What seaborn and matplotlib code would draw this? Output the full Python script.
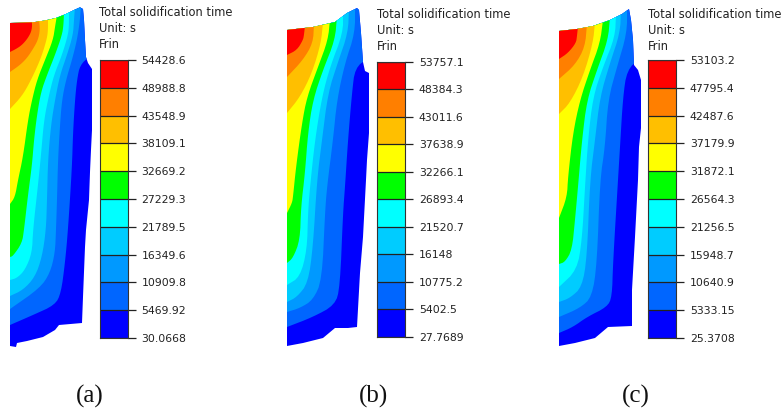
import numpy as np
import pandas as pd
import matplotlib
matplotlib.use('Agg')
import matplotlib.pyplot as plt
from matplotlib.colors import ListedColormap, BoundaryNorm
from matplotlib.patches import Polygon
import seaborn as sns

# Legend levels, top to bottom
levels_a = [54428.6, 48988.8, 43548.9, 38109.1, 32669.2, 27229.3, 21789.5, 16349.6, 10909.8, 5469.92, 30.0668]
levels_b = [53757.1, 48384.3, 43011.6, 37638.9, 32266.1, 26893.4, 21520.7, 16148, 10775.2, 5402.5, 27.7689]
levels_c = [53103.2, 47795.4, 42487.6, 37179.9, 31872.1, 26564.3, 21256.5, 15948.7, 10640.9, 5333.15, 25.3708]
labels_a = ['54428.6', '48988.8', '43548.9', '38109.1', '32669.2', '27229.3', '21789.5', '16349.6', '10909.8', '5469.92', '30.0668']
labels_b = ['53757.1', '48384.3', '43011.6', '37638.9', '32266.1', '26893.4', '21520.7', '16148', '10775.2', '5402.5', '27.7689']
labels_c = ['53103.2', '47795.4', '42487.6', '37179.9', '31872.1', '26564.3', '21256.5', '15948.7', '10640.9', '5333.15', '25.3708']
band_colors = ['#ff0000', '#ff7f00', '#ffbf00', '#ffff00', '#00ff00',
               '#00ffff', '#00ccff', '#0099ff', '#0066ff', '#0000ff']
title_lines = ['Total solidification time', 'Unit: s', 'Frin']

# Casting silhouettes and the contour lines (image pixels)
outline_a = [(10, 23), (32, 22.5), (45, 20.5), (56, 18), (66, 14), (74, 10), (80, 7.3), (83, 9), (84, 20), (85, 40),
             (86, 57), (88, 63), (92, 69), (92, 130), (91, 150), (90, 172), (89, 200), (86, 230), (85, 247), (83, 297),
             (82, 323), (59, 325), (55, 330), (43, 337), (27, 341), (17, 343), (16, 347), (10, 346)]
contours_a = [
    [(32, 20), (32, 30), (28, 38), (22, 45), (16, 49), (10, 52)],
    [(39, 20), (40, 30), (38, 40), (33, 49), (27, 58), (20, 65), (10, 72)],
    [(48, 18), (48, 30), (47, 38), (43, 52), (38, 65), (30, 82), (22, 96), (10, 109)],
    [(57, 15), (55, 27), (53, 40), (45, 60), (37, 80), (32, 100), (28, 120), (23, 157), (18, 180), (15, 197), (10, 204)],
    [(64, 12), (63.5, 25), (62, 35), (55, 55), (47, 75), (41, 92), (37, 115), (34, 140), (32, 165), (28, 195), (24, 230), (22, 243), (13, 256), (10, 257)],
    [(69, 9), (69, 25), (68, 35), (62, 55), (54, 75), (49, 95), (44, 120), (41, 155), (38, 185), (33, 230), (32, 253), (25, 270), (17, 278), (10, 280)],
    [(75, 6), (74, 20), (73, 35), (67, 55), (60, 75), (55, 100), (51, 125), (48, 160), (47, 200), (46, 230), (42, 257), (35, 277), (23, 290), (10, 296)],
    [(81, 4), (80, 20), (77, 40), (72, 60), (66, 80), (62, 100), (60, 125), (58, 160), (57, 200), (56, 230), (55, 253), (50, 273), (40, 288), (10, 309)],
    [(90, 56), (80, 65), (77, 80), (75, 100), (73, 133), (72, 167), (68, 230), (65, 263), (61, 293), (55, 305), (33, 315), (10, 325)],
]
outline_b = [(287, 30), (313, 27), (335, 22), (347, 13), (357, 8), (359, 10), (361, 33), (363, 62), (365, 71), (369, 73),
             (369, 133), (367, 160), (366, 180), (363, 237), (360, 273), (357, 327), (348, 328), (335, 328), (323, 338),
             (303, 343), (287, 346)]
contours_b = [
    [(305, 25), (304, 35), (303, 40), (297, 50), (287, 55)],
    [(314, 24), (313, 43), (303, 60), (287, 77)],
    [(323, 22), (321, 43), (312, 73), (300, 97), (287, 113)],
    [(330, 19), (328, 40), (318, 67), (307, 97), (302, 123), (296, 167), (293, 197), (292, 203), (287, 213)],
    [(337, 16), (335, 40), (323, 70), (313, 100), (308, 133), (305, 173), (301, 207), (300, 240), (293, 258), (287, 263)],
    [(343, 12), (343, 33), (330, 67), (322, 97), (315, 140), (310, 187), (308, 213), (307, 250), (300, 277), (287, 285)],
    [(349, 8), (348, 33), (338, 62), (328, 93), (322, 140), (317, 180), (313, 247), (308, 283), (297, 297), (287, 302)],
    [(355, 5), (355, 33), (345, 63), (337, 100), (333, 140), (327, 187), (325, 213), (322, 280), (313, 300), (300, 308), (287, 312)],
    [(368, 58), (355, 68), (352, 93), (348, 140), (345, 187), (343, 213), (340, 287), (335, 305), (313, 317), (287, 327)],
]
outline_c = [(559, 31), (577, 29), (593, 26), (610, 20), (622, 14), (629, 9), (631, 20), (633, 40), (634, 65), (638, 70),
             (641, 80), (641, 128), (639, 147), (638, 180), (635, 237), (632, 290), (632, 326), (608, 327), (595, 338),
             (575, 343), (559, 346)]
contours_c = [
    [(578, 26), (577, 36), (576, 43), (568, 53), (559, 59)],
    [(587, 24), (585, 47), (575, 65), (559, 79)],
    [(595, 22), (593, 43), (583, 77), (570, 103), (559, 114)],
    [(603, 20), (600, 43), (590, 70), (580, 100), (573, 133), (568, 177), (567, 197), (559, 218)],
    [(610, 17), (608, 40), (597, 70), (587, 100), (582, 140), (578, 187), (575, 220), (572, 250), (565, 262), (559, 264)],
    [(616, 14), (615, 37), (603, 67), (593, 97), (588, 140), (585, 187), (582, 240), (577, 270), (559, 287)],
    [(621, 10), (620, 33), (610, 63), (600, 97), (595, 140), (590, 180), (587, 257), (582, 287), (570, 298), (559, 302)],
    [(627, 7), (627, 33), (617, 67), (608, 100), (605, 147), (600, 180), (597, 263), (592, 297), (580, 308), (559, 317)],
    [(640, 58), (627, 70), (623, 97), (620, 147), (618, 180), (613, 263), (612, 297), (607, 307), (587, 317), (573, 327), (559, 333)],
]

panels = [
    dict(outline=outline_a, contours=contours_a, levels=levels_a, labels=labels_a, bar=(99.5, 60, 28, 278),
         text_x=99, text_y=13, caption='(a)', caption_x=90),
    dict(outline=outline_b, contours=contours_b, levels=levels_b, labels=labels_b, bar=(376.5, 61.5, 28.5, 275.5),
         text_x=377, text_y=15, caption='(b)', caption_x=373),
    dict(outline=outline_c, contours=contours_c, levels=levels_c, labels=labels_c, bar=(647.5, 60, 28.5, 278),
         text_x=648, text_y=14, caption='(c)', caption_x=636),
]


def smooth(points, rounds=2):
    """Corner cutting so the contour lines look like curves, ends stay put"""
    pts = np.array(points, dtype=float)
    for _ in range(rounds):
        q = 0.75 * pts[:-1] + 0.25 * pts[1:]
        r = 0.25 * pts[:-1] + 0.75 * pts[1:]
        mid = np.empty((len(q) * 2, 2))
        mid[0::2] = q
        mid[1::2] = r
        pts = np.vstack([pts[0], mid, pts[-1]])
    return pts


def draw_casting(ax, outline, contours):
    xs = [p[0] for p in outline]
    shape = Polygon(outline, closed=True, facecolor=band_colors[-1], edgecolor='none', zorder=1)
    ax.add_patch(shape)
    left = min(xs) - 5
    for i, curve in enumerate(contours):
        line = smooth(curve)
        ring = np.vstack([line, [left, line[-1, 1]], [left, 0], [line[0, 0], 0]])
        band = Polygon(ring, closed=True, facecolor=band_colors[i], edgecolor='none', zorder=2 + (len(contours) - i))
        ax.add_patch(band)
        band.set_clip_path(shape)


def draw_legend(fig, bar, levels, labels):
    W, H = 783.0, 413.0
    x, y, w, h = bar
    cax = fig.add_axes([x / W, 1 - (y + h) / H, w / W, h / H])
    levels = np.array(levels)
    mids = (levels[:-1] + levels[1:]) / 2
    cells = pd.DataFrame({'band': mids})
    sns.heatmap(cells, ax=cax, cbar=False, cmap=ListedColormap(band_colors[::-1]),
                norm=BoundaryNorm(levels[::-1], 10), linewidths=0.0)
    cax.hlines(range(11), 0, 1, color='#222222', lw=0.9)
    cax.yaxis.tick_right()
    cax.set_xticks([])
    cax.set_yticks(range(11))
    cax.set_yticklabels(labels, rotation=0, fontsize=7.8, color='#222222')
    cax.tick_params(axis='y', length=5.5, width=0.9, color='#222222', pad=4.5, right=True, left=False)
    cax.set_ylabel('')
    for s in cax.spines.values():
        s.set_visible(True)
        s.set_linewidth(0.8)
        s.set_color('#333333')


def main():
    sns.set_theme(style='white', rc={'font.family': 'DejaVu Sans'})
    fig = plt.figure(figsize=(7.83, 4.13), dpi=100, facecolor='white')
    ax = fig.add_axes([0, 0, 1, 1])
    ax.set_xlim(0, 783)
    ax.set_ylim(413, 0)
    ax.axis('off')

    for p in panels:
        draw_casting(ax, p['outline'], p['contours'])
        draw_legend(fig, p['bar'], p['levels'], p['labels'])
        for i, line in enumerate(title_lines):
            ax.text(p['text_x'], p['text_y'] + 16 * i, line, fontsize=8.3, color='#222222', ha='left', va='center')
        ax.text(p['caption_x'], 396, p['caption'], fontsize=18, family='Liberation Serif', color='#111111',
                ha='center', va='center')

    fig.savefig('out.png', dpi=100)


if __name__ == "__main__":
    main()
